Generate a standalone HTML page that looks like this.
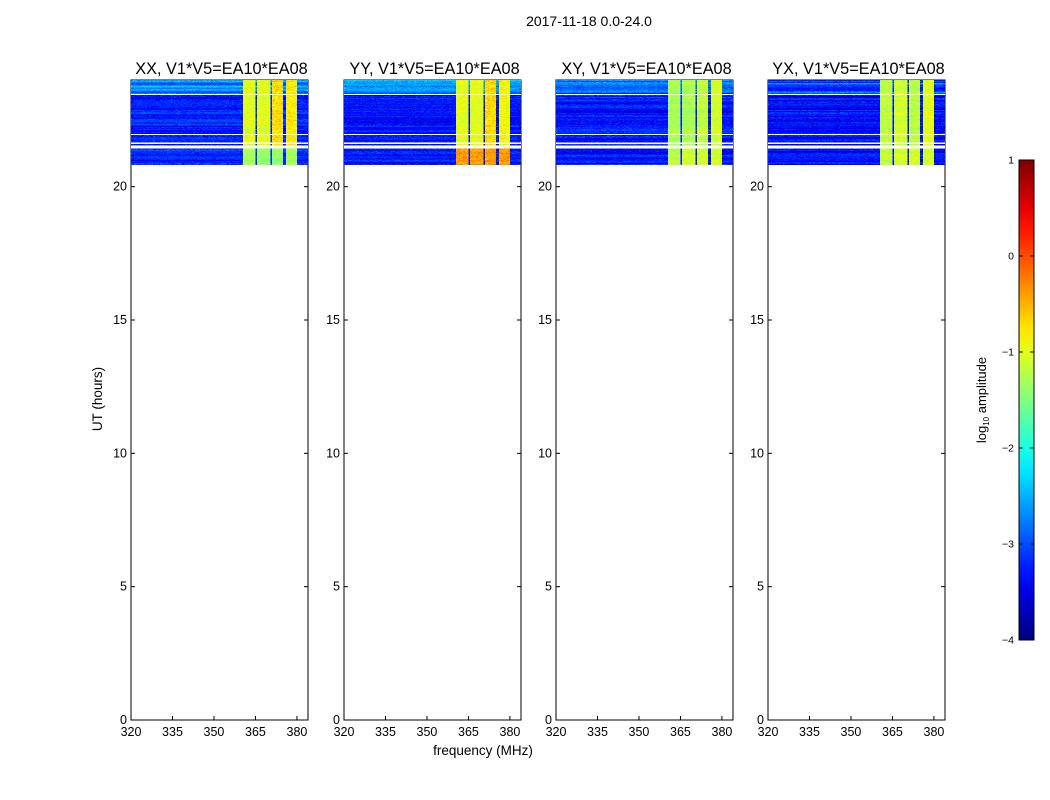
<!DOCTYPE html>
<html><head><meta charset="utf-8"><style>
body{margin:0;background:#fff;font-family:"Liberation Sans",sans-serif;}
#root{position:relative;width:1050px;height:800px;overflow:hidden;}
svg text{font-family:"Liberation Sans",sans-serif;}
canvas{position:absolute;image-rendering:pixelated;}
</style></head><body>
<div id="root">
<svg id="svg" width="1050" height="800" style="position:absolute;left:0;top:0"></svg>
</div>
<script>
// ---- data ----
const panelTitles = ["XX, V1*V5=EA10*EA08","YY, V1*V5=EA10*EA08","XY, V1*V5=EA10*EA08","YX, V1*V5=EA10*EA08"];
const xTicks = [320,335,350,365,380];
const yTicks = [0,5,10,15,20];
const cbTicks = [1,0,-1,-2,-3,-4];
// frequency bands [start MHz, end MHz, log10 amplitude] per panel (upper/lower block)
const bandsUpper = [
 [[360.5,365,-1.0],[365.7,370.5,-1.0],[371,375.2,-0.7],[375.8,380,-0.8]],
 [[360.5,365,-1.0],[365.7,370.5,-1.0],[371,375.2,-0.7],[375.8,380,-0.9]],
 [[360.5,365,-1.3],[365.7,370.5,-1.3],[371,375.2,-1.2],[375.8,380,-1.1]],
 [[360.5,365,-1.2],[365.7,370.5,-1.1],[371,375.2,-1.2],[375.8,380,-1.0]]
];
const bandsLower = [
 [[360.5,365,-1.3],[365.7,370.5,-1.4],[371,375.2,-1.4],[375.8,380,-1.3]],
 [[360.5,365,-0.4],[365.7,370.5,-0.4],[371,375.2,-0.4],[375.8,380,-0.4]],
 [[360.5,365,-1.2],[365.7,370.5,-1.1],[371,375.2,-1.1],[375.8,380,-1.1]],
 [[360.5,365,-1.2],[365.7,370.5,-1.1],[371,375.2,-1.1],[375.8,380,-1.1]]
];
const backgroundLevel = [-3.2,-3.3,-3.3,-3.35];
const topStripeLevel = [-2.7,-2.7,-2.9,-3.0];
const gapHours = [23.45,21.95,21.62,21.48];
const gapHalfWidths = [0.02,0.02,0.02,0.05];
const dataStart = 20.8, dataEnd = 24.0, splitHour = 21.45;
// ---- layout ----
const panelX = [131,344,556,768], PW = 177, PT = 80, PB = 720;
const fmin = 320, fmax = 384, tmin = 0, tmax = 24;
const svg = document.getElementById('svg');
const NS = "http://www.w3.org/2000/svg";
function el(tag, attrs, parent){const e=document.createElementNS(NS,tag);for(const k in attrs)e.setAttribute(k,attrs[k]);(parent||svg).appendChild(e);return e;}
function jet(v){
 const r=Math.min(Math.max(Math.min(4*v-1.5,-4*v+4.5),0),1);
 const g=Math.min(Math.max(Math.min(4*v-0.5,-4*v+3.5),0),1);
 const b=Math.min(Math.max(Math.min(4*v+0.5,-4*v+2.5),0),1);
 return [r*255|0,g*255|0,b*255|0];
}
function norm(l){return (l+4)/5;}
function hash(i,j,p){let h=(i*374761393+j*668265263+p*2147483647)>>>0;h=(h^(h>>>13))*1274126177>>>0;return ((h^(h>>>16))>>>0)/4294967295;}
const root=document.getElementById('root');
panelX.forEach((x0,p)=>{
 const xs=f=>x0+(f-fmin)/(fmax-fmin)*PW;
 const ys=t=>PB-(t-tmin)/(tmax-tmin)*(PB-PT);
 const nC=128,nR=320;
 const cv=document.createElement('canvas');
 cv.width=nC;cv.height=nR;
 const y0=ys(dataEnd),y1=ys(dataStart);
 cv.style.left=x0+'px';cv.style.top=y0+'px';cv.style.width=PW+'px';cv.style.height=(y1-y0)+'px';
 
 
 root.appendChild(cv);
 const ctx=cv.getContext('2d');const img=ctx.createImageData(nC,nR);
 for(let r=0;r<nR;r++){
  const t=dataEnd-(r+0.5)/nR*(dataEnd-dataStart);
  const rowBlock=Math.floor(r/4);
  const rowOff=(hash(rowBlock,7,p)-0.5)*0.5;
  const bands=t<splitHour?bandsLower[p]:bandsUpper[p];
  for(let c=0;c<nC;c++){
   const f=fmin+(c+0.5)/nC*(fmax-fmin);
   let lv=backgroundLevel[p]+rowOff; if(t>23.5) lv=topStripeLevel[p]+rowOff*1.5;
   for(const b of bands) if(f>=b[0]&&f<b[1]) lv=b[2]+rowOff*0.4;
   lv+=(hash(r,c,p)-0.5)*0.5;
   let col=jet(Math.min(1,Math.max(0,norm(lv))));
   let gap=false; gapHours.forEach((g,i)=>{if(Math.abs(t-g)<gapHalfWidths[i]) gap=true;});
   if(gap) col=[255,255,255];
   const k=(r*nC+c)*4;img.data[k]=col[0];img.data[k+1]=col[1];img.data[k+2]=col[2];img.data[k+3]=255;
  }
 }
 ctx.putImageData(img,0,0);
 const fr=el('rect',{x:x0,y:PT,width:PW,height:PB-PT,fill:'none',stroke:'#000','stroke-width':1});
 
 const tt=el('text',{x:x0+PW/2+2,y:74,'text-anchor':'middle','font-size':16.3});
 tt.textContent=panelTitles[p];
 
 xTicks.forEach(v=>{const X=xs(v);
  el('line',{x1:X,x2:X,y1:PB,y2:PB-4,stroke:'#000'});el('line',{x1:X,x2:X,y1:PT,y2:PT+4,stroke:'#000'});
  const l=el('text',{x:X,y:PB+16,'text-anchor':'middle','font-size':12.5});l.textContent=v;
  });
 yTicks.forEach(v=>{const Y=ys(v);
  el('line',{x1:x0,x2:x0+4,y1:Y,y2:Y,stroke:'#000'});el('line',{x1:x0+PW,x2:x0+PW-4,y1:Y,y2:Y,stroke:'#000'});
  const l=el('text',{x:x0-4,y:Y+4,'text-anchor':'end','font-size':12.5});l.textContent=v;
  });
});
const st=el('text',{x:589,y:26,'text-anchor':'middle','font-size':14});st.textContent="2017-11-18 0.0-24.0";

const yl=el('text',{x:102,y:399,'text-anchor':'middle','font-size':13.5,transform:'rotate(-90 102 399)'});yl.textContent="UT (hours)";

const xl=el('text',{x:483,y:755,'text-anchor':'middle','font-size':13.5});xl.textContent="frequency (MHz)";

const cbX=1019,cbW=15,cbT=160,cbB=640;
const defs=el('defs',{});const lg=el('linearGradient',{id:'jetg',x1:0,y1:1,x2:0,y2:0},defs);
for(let i=0;i<=20;i++){const c=jet(i/20);el('stop',{offset:i/20,'stop-color':`rgb(${c[0]},${c[1]},${c[2]})`},lg);}
const cb=el('rect',{x:cbX,y:cbT,width:cbW,height:cbB-cbT,fill:'url(#jetg)',stroke:'#000'});

cbTicks.forEach(v=>{const Y=cbB-(v+4)/5*(cbB-cbT);
 el('line',{x1:cbX,x2:cbX+4,y1:Y,y2:Y,stroke:'#000'});el('line',{x1:cbX+cbW,x2:cbX+cbW-4,y1:Y,y2:Y,stroke:'#000'});
 const l=el('text',{x:cbX-5,y:Y+3.5,'text-anchor':'end','font-size':10.5});l.textContent=v<0?'\u2212'+(-v):v;
 });
const cl=el('text',{x:986,y:400,'text-anchor':'middle','font-size':13,transform:'rotate(-90 986 400)'});
cl.innerHTML='log<tspan font-size="8" dy="3">10</tspan><tspan dy="-3"> amplitude</tspan>';

</script>
</body></html>
